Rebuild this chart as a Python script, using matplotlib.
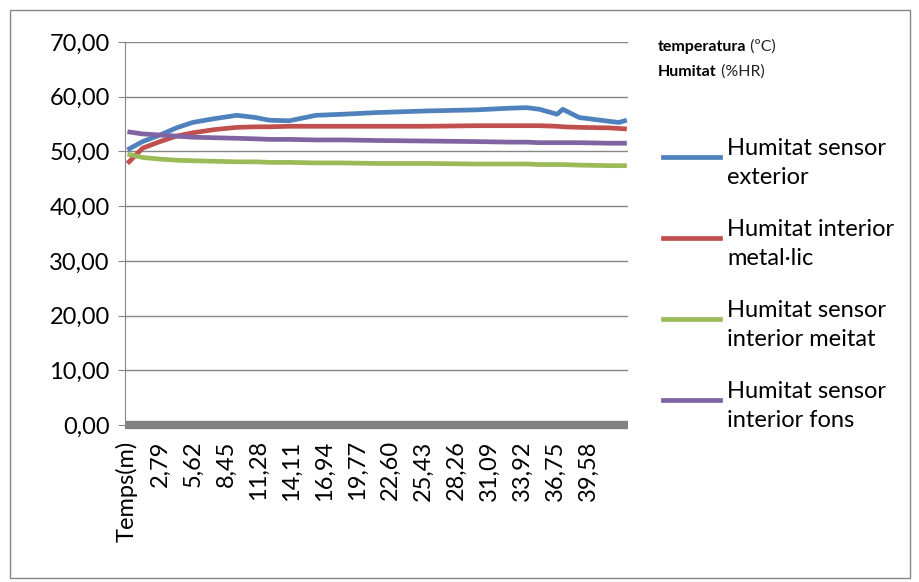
import matplotlib.pyplot as plt
from matplotlib.lines import Line2D
from matplotlib.patches import Rectangle
from matplotlib.ticker import FuncFormatter

plt.rcParams['font.family'] = ['Lato', 'DejaVu Sans']

# time in minutes
temps = [0.0, 1.3, 2.8, 4.2, 5.6, 7.5, 9.4, 11.0, 12.2, 13.9, 16.2, 18.5,
         21.4, 25.7, 30.0, 32.8, 34.3, 35.4, 36.9, 37.4, 38.8, 41.4, 42.2, 42.9]

hum_exterior = [50.3, 51.8, 53.0, 54.3, 55.3, 56.0, 56.6, 56.2, 55.7, 55.6, 56.6, 56.8,
                57.1, 57.4, 57.6, 57.9, 58.0, 57.7, 56.8, 57.7, 56.2, 55.5, 55.3, 55.7]
hum_metallic = [47.8, 50.6, 51.8, 52.8, 53.4, 54.0, 54.4, 54.5, 54.5, 54.6, 54.6, 54.6,
                54.6, 54.6, 54.7, 54.7, 54.7, 54.7, 54.6, 54.5, 54.4, 54.3, 54.2, 54.1]
hum_meitat = [49.5, 48.9, 48.6, 48.4, 48.3, 48.2, 48.1, 48.1, 48.0, 48.0, 47.9, 47.9,
              47.8, 47.8, 47.7, 47.7, 47.7, 47.6, 47.6, 47.6, 47.5, 47.4, 47.4, 47.4]
hum_fons = [53.6, 53.2, 53.0, 52.8, 52.6, 52.5, 52.4, 52.3, 52.2, 52.2, 52.1, 52.1,
            52.0, 51.9, 51.8, 51.7, 51.7, 51.6, 51.6, 51.6, 51.6, 51.5, 51.5, 51.5]

tick_pos = [-0.04, 2.79, 5.62, 8.45, 11.28, 14.11, 16.94, 19.77, 22.60, 25.43,
            28.26, 31.09, 33.92, 36.75, 39.58]
tick_labels = ['Temps(m)'] + [f"{t:.2f}".replace('.', ',') for t in tick_pos[1:]]

series = [
    ("Humitat sensor\nexterior", hum_exterior, '#4F81BD'),
    ("Humitat interior\nmetal·lic", hum_metallic, '#C0504D'),
    ("Humitat sensor\ninterior meitat", hum_meitat, '#9BBB59'),
    ("Humitat sensor\ninterior fons", hum_fons, '#8064A2'),
]

W, H = 919, 582
fig = plt.figure(figsize=(W / 100, H / 100), dpi=100)
ax = fig.add_axes([125 / W, 1 - 425 / H, (628 - 125) / W, (425 - 42) / H])

for name, vals, col in series:
    ax.plot(temps, vals, color=col, lw=3.4, solid_capstyle='butt', zorder=3)

# thick grey band on the zero line
ax.axhline(0, color='#808080', lw=6, clip_on=False, solid_capstyle='butt', zorder=2)

ax.set_xlim(-0.21, 43.0)
ax.set_ylim(0, 70)
ax.set_yticks(range(0, 71, 10))
ax.yaxis.set_major_formatter(FuncFormatter(lambda v, p: f"{v:.2f}".replace('.', ',')))
ax.yaxis.grid(True, color='#868686', lw=1)
ax.set_axisbelow(True)
ax.set_xticks(tick_pos)
ax.set_xticklabels(tick_labels, rotation=90, va='top', ha='center')

for s in ['top', 'right', 'bottom']:
    ax.spines[s].set_visible(False)
ax.spines['left'].set_color('#868686')
ax.tick_params(axis='y', length=5, color='#868686', labelsize=17, pad=6)
ax.tick_params(axis='x', length=0, labelsize=17, pad=11)

# legend drawn by hand
for i, (name, vals, col) in enumerate(series):
    y = 1 - (157 + 81 * i) / H
    fig.add_artist(Line2D([663 / W, 720 / W], [y, y], color=col, lw=3.4,
                          transform=fig.transFigure))
    fig.text(727 / W, 1 - (163 + 81 * i) / H, name, fontsize=17, va='center',
             ha='left', linespacing=1.45)

# small header text: bold word followed by the unit
headers = [("temperatura", " (ºC)", 47), ("Humitat", " (%HR)", 72)]
fig.canvas.draw()
for word, unit, ypx in headers:
    t = fig.text(658 / W, 1 - ypx / H, word, fontsize=11.5, fontweight='bold',
                 va='center', ha='left')
    fig.canvas.draw()
    bb = t.get_window_extent()
    fig.text(bb.x1 / W, 1 - ypx / H, unit, fontsize=11.5, va='center', ha='left',
             color='#222222')

fig.add_artist(Rectangle((10 / W, 4 / H), 900 / W, 568 / H, transform=fig.transFigure,
                         fill=False, edgecolor='#868686', lw=1))

fig.savefig('out.png', dpi=100)
